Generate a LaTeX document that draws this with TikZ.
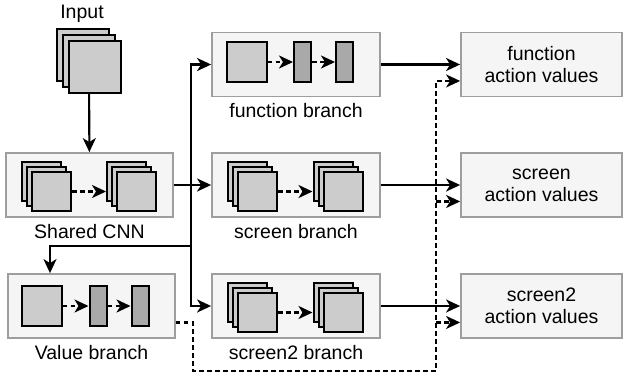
\documentclass[tikz,border=0pt]{standalone}
\usepackage{fontspec}
\setmainfont{Liberation Sans}
\usetikzlibrary{arrows.meta,calc}
\definecolor{panelFill}{HTML}{F5F5F5}
\definecolor{panelEdge}{HTML}{9E9E9E}
\definecolor{mapFill}{HTML}{CCCCCC}
\definecolor{barFill}{HTML}{A9A9A9}

% three stacked feature maps: name, centre of the middle map, size, step
\newcommand{\mapstack}[5]{%
    \node[fmap, minimum size=#4] (#1-a) at ({#2-#5},{#3-#5}) {};
    \node[fmap, minimum size=#4] (#1-b) at (#2,#3) {};
    \node[fmap, minimum size=#4] (#1-c) at ({#2+#5},{#3+#5}) {};
}

\begin{document}
\begin{tikzpicture}[
    x=1pt, y=-1pt,
    font=\fontsize{19.5}{22}\selectfont,
    panel/.style={draw=panelEdge, line width=1.8pt, fill=panelFill, minimum width=168pt, minimum height=64pt, inner sep=0pt, align=center},
    fmap/.style={draw=black, line width=2pt, fill=mapFill, inner sep=0pt},
    bar/.style={draw=black, line width=2pt, fill=barFill, inner sep=0pt, minimum width=17pt, minimum height=40pt},
    caption/.style={anchor=base, inner sep=0pt},
    arrow/.style={-{Stealth[length=14pt, width=13pt, inset=4pt]}, line width=2.1pt},
    dasharrow/.style={arrow, dash pattern=on 4.5pt off 3.5pt}
]
    \useasboundingbox (0,0) rectangle (624,376);

    % Input
    \node[caption] (inlabel) at (82,18) {Input};
    \mapstack{in}{89}{61}{52pt}{6}
    \node[inner sep=0pt, minimum width=64pt, minimum height=64pt] (input) at (89,61) {};

    % Panels
    \node[panel, minimum width=167pt] (cnn) at (89.5,185) {};
    \node[panel, minimum width=167pt] (valbr) at (91.5,306) {};
    \node[panel] (fnbr) at (296,64.5) {};
    \node[panel] (scrbr) at (296,185) {};
    \node[panel] (scr2br) at (296,306) {};

    % Action values
    \node[panel, minimum width=161pt] (fnact) at (541.5,64.5) {function\\action values};
    \node[panel, minimum width=161pt] (scract) at (541.5,185) {screen\\action values};
    \node[panel, minimum width=161pt] (scr2act) at (541.5,306) {screen2\\action values};

    % Captions
    \node[caption] at (89.5,238) {Shared CNN};
    \node[caption] at (91.5,359) {Value branch};
    \node[caption] at (296,117) {function branch};
    \node[caption] at (296,238) {screen branch};
    \node[caption] at (296,359) {screen2 branch};

    % Shared CNN maps
    \mapstack{cnnA}{46.5}{186.5}{39pt}{5}
    \mapstack{cnnB}{131.5}{186.5}{39pt}{5}
    \draw[dasharrow] (cnnA-c.east) -- (cnnA-c.east -| cnnB-a.west);

    % screen branch maps
    \mapstack{scrA}{252.5}{186.5}{39pt}{5}
    \mapstack{scrB}{338}{186.5}{39pt}{5}
    \draw[dasharrow] (scrA-c.east) -- (scrA-c.east -| scrB-a.west);

    % screen2 branch maps
    \mapstack{scrtA}{252.5}{307.5}{39pt}{5}
    \mapstack{scrtB}{338}{307.5}{39pt}{5}
    \draw[dasharrow] (scrtA-c.east) -- (scrtA-c.east -| scrtB-a.west);

    % function branch layers
    \node[fmap, minimum size=40pt] (fnsq) at (246.5,62) {};
    \node[bar] (fnbarA) at (302.5,62) {};
    \node[bar] (fnbarB) at (344.5,62) {};
    \draw[dasharrow] (fnsq) -- (fnbarA);
    \draw[dasharrow] (fnbarA) -- (fnbarB);

    % Value branch layers
    \node[fmap, minimum size=40pt] (valsq) at (41.5,306) {};
    \node[bar] (valbarA) at (98,306) {};
    \node[bar] (valbarB) at (140,306) {};
    \draw[dasharrow] (valsq) -- (valbarA);
    \draw[dasharrow] (valbarA) -- (valbarB);

    % Trunk from the shared CNN
    \draw[arrow] (input) -- (cnn);
    \draw[arrow] (cnn) -- (scrbr);
    \coordinate (split) at (191,185);
    \coordinate (vturn) at (191,246);
    \coordinate (vdrop) at (50,246);
    \draw[arrow] (split) |- (fnbr.west);
    \draw[arrow] (split) |- (scr2br.west);
    \draw[arrow] (vturn) -- (vdrop) -- (vdrop |- valbr.north);

    % Branches to action values
    \draw[arrow] (fnbr) -- (fnact);
    \draw[arrow] (scrbr) -- (scract);
    \draw[arrow] (scr2br) -- (scr2act);

    % Value added to every head
    \coordinate (vout) at ($(valbr.north east)!.75!(valbr.south east)$);
    \coordinate (fnin) at ($(fnact.north west)!.75!(fnact.south west)$);
    \coordinate (scrin) at ($(scract.north west)!.75!(scract.south west)$);
    \coordinate (scr2in) at ($(scr2act.north west)!.75!(scr2act.south west)$);
    \coordinate (dlow) at (193,371);
    \coordinate (dcol) at (436,371);
    \draw[dasharrow] (vout) -| (dlow) -- (dcol) |- (fnin);
    \draw[dasharrow] (dcol |- scrin) -- (scrin);
    \draw[dasharrow] (dcol |- scr2in) -- (scr2in);
\end{tikzpicture}
\end{document}
